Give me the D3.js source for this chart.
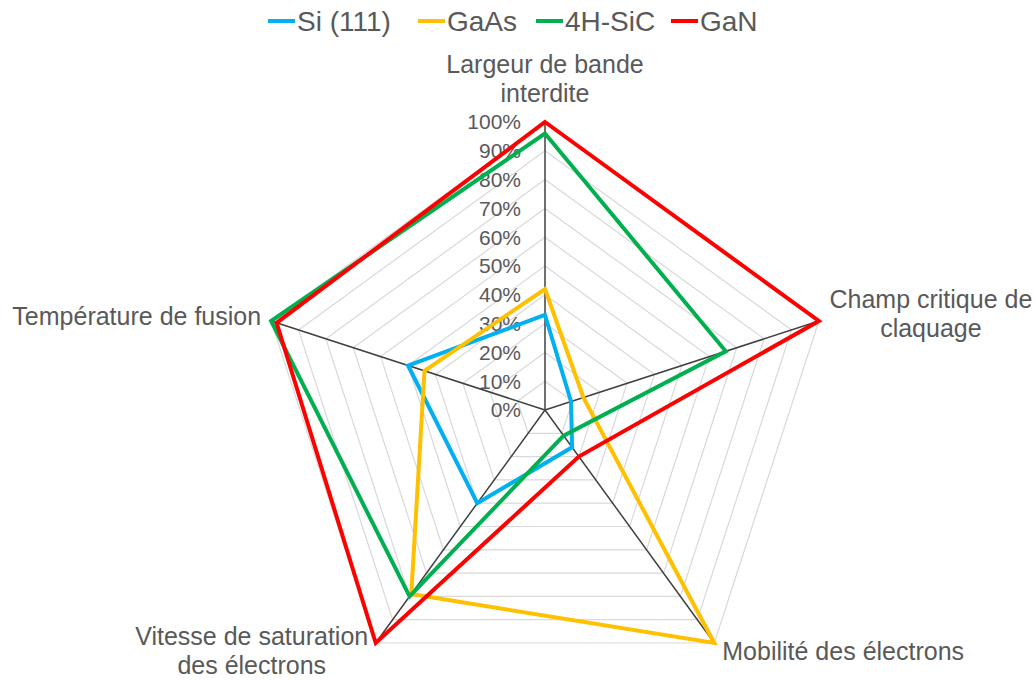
<!DOCTYPE html>
<html><head><meta charset="utf-8">
<script src="https://cdn.jsdelivr.net/npm/d3@7"></script>
<style>body{margin:0;background:#fff}svg{display:block;font-family:Arial,"Liberation Sans",sans-serif}</style>
</head><body><svg id="c" width="1036" height="680"></svg>
<script>
const categories = [
  ["Largeur de bande", "interdite"],
  ["Champ critique de", "claquage"],
  ["Mobilité des électrons"],
  ["Vitesse de saturation", "des électrons"],
  ["Température de fusion"]
];
const seriesNames = ["Si (111)", "GaAs", "4H-SiC", "GaN"];
const seriesColors = ["#00B0F0", "#FFC000", "#00B050", "#FF0000"];
const si   = [0.33, 0.095, 0.16, 0.40, 0.50];
const gaas = [0.42, 0.14, 1.00, 0.79, 0.44];
const sic  = [0.96, 0.66, 0.11, 0.80, 1.00];
const gan  = [1.00, 1.00, 0.20, 1.00, 0.98];
const tickValues = [0,0.1,0.2,0.3,0.4,0.5,0.6,0.7,0.8,0.9,1.0];
const series = [si, gaas, sic, gan];

const svg = d3.select("#c");
const cx = 545, cy = 410, R = 288;
const r = d3.scaleLinear().domain([0,1]).range([0,R]);
const ang = d3.scaleLinear().domain([0, categories.length]).range([0, 2*Math.PI]);
const g = svg.append("g").attr("transform", `translate(${cx},${cy})`);
const pt = (i, v) => [Math.sin(ang(i))*r(v), -Math.cos(ang(i))*r(v)];

// grid rings
const ringLine = d3.lineRadial().angle((d,i)=>ang(i)).radius(d=>r(d)).curve(d3.curveLinearClosed);
tickValues.slice(1).forEach(t=>{
  g.append("path").attr("d", ringLine(categories.map(()=>t)))
   .attr("fill","none").attr("stroke","#D9D9D9").attr("stroke-width",1.2);
});
// spokes
categories.forEach((c,i)=>{
  const p = pt(i,1);
  g.append("line").attr("x1",0).attr("y1",0).attr("x2",p[0]).attr("y2",p[1])
   .attr("stroke","#404040").attr("stroke-width",1.5);
});
// tick labels
g.selectAll("text.tick").data(tickValues).enter().append("text")
 .attr("x",-24).attr("y",d=>-r(d)).attr("dy","0.35em")
 .attr("text-anchor","end").attr("font-size",21).attr("fill","#595959")
 .text(d=>d3.format(".0%")(d));
// series
const line = d3.lineRadial().angle((d,i)=>ang(i)).radius(d=>r(d)).curve(d3.curveLinearClosed);
series.forEach((s,k)=>{
  g.append("path").attr("d", line(s)).attr("fill","none")
   .attr("stroke", seriesColors[k]).attr("stroke-width",4).attr("stroke-linejoin","miter");
});
// axis labels
const labelCfg = [
  {dx:0, dy:-49, anchor:"middle"},
  {dx:112, dy:-13, anchor:"middle"},
  {dx:8, dy:17, anchor:"start"},
  {dx:-124, dy:2, anchor:"middle"},
  {dx:-10, dy:4, anchor:"end"}
];
categories.forEach((c,i)=>{
  const p = pt(i,1), cf = labelCfg[i];
  const t = g.append("text").attr("text-anchor",cf.anchor).attr("font-size",25).attr("fill","#595959");
  c.forEach((ln,j)=>{
    t.append("tspan").attr("x",p[0]+cf.dx).attr("y",p[1]+cf.dy+j*29).text(ln);
  });
});
// legend
const legX = [268, 418, 536, 671];
const lg = svg.append("g");
seriesNames.forEach((n,k)=>{
  lg.append("line").attr("x1",legX[k]).attr("x2",legX[k]+27).attr("y1",21).attr("y2",21)
    .attr("stroke",seriesColors[k]).attr("stroke-width",4);
  lg.append("text").attr("x",legX[k]+29).attr("y",31).attr("font-size",28).attr("fill","#595959").text(n);
});
</script></body></html>
